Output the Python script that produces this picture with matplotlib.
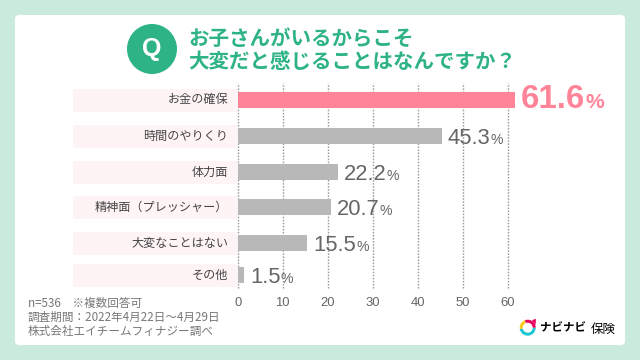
import matplotlib
matplotlib.use('Agg')
import matplotlib.pyplot as plt
from matplotlib.patches import Circle, FancyBboxPatch, Polygon, Rectangle, Wedge

plt.rcParams['font.family'] = ['Noto Sans CJK JP', 'DejaVu Sans']

categories = ['お金の確保', '時間のやりくり', '体力面', '精神面（プレッシャー）', '大変なことはない', 'その他']
values = [61.6, 45.3, 22.2, 20.7, 15.5, 1.5]
x_ticks = [0, 10, 20, 30, 40, 50, 60]
title_lines = ['お子さんがいるからこそ', '大変だと感じることはなんですか？']
footnotes = ['n=536　※複数回答可', '調査期間：2022年4月22日～4月29日', '株式会社エイチームフィナジー調べ']

# layout, in reference pixels
row_y = [100, 136, 172, 207, 243, 275]
W, H = 640, 360
X0, X60 = 237.7, 507.7
Y_TOP, Y_BOT = 83, 288
GREEN = '#2EB386'
PINK = '#FF8497'
GRAY = '#B8B8B8'
NUM_FONT = 'Liberation Sans'


def px(v):
    return v * 0.72


fig = plt.figure(figsize=(6.4, 3.6), dpi=100, facecolor='#C9EADD')

# page furniture drawn in pixel coordinates
bg = fig.add_axes([0, 0, 1, 1])
bg.set_xlim(0, W)
bg.set_ylim(H, 0)
bg.axis('off')
bg.add_patch(FancyBboxPatch((19, 19), 602, 322, boxstyle='round,pad=4,rounding_size=4',
                            fc='white', ec='none'))

bg.add_patch(Circle((152, 49), 25, fc=GREEN, ec='none'))
bg.text(152, 49, 'Q', color='white', fontsize=px(25), fontweight='bold',
        family=NUM_FONT, ha='center', va='center')
bg.text(188, 38, title_lines[0], color=GREEN, fontsize=px(20.5), fontweight='bold', ha='left', va='center')
bg.text(188, 62, title_lines[1], color=GREEN, fontsize=px(20.5), fontweight='bold', ha='left', va='center')

for y, label in zip(row_y, categories):
    bg.add_patch(Rectangle((73, y - 11.5), 164, 23, fc='#FFF4F5', ec='none'))
    bg.text(228, y, label, color='#444444', fontsize=px(12.1), ha='right', va='center')

for y, line in zip([303, 317, 331], footnotes):
    bg.text(28, y, line, color='#777777', fontsize=px(11.6), ha='left', va='center')

# logo
bg.add_patch(Wedge((527.7, 327.7), 8, 0, 170, width=3, fc='#1CC6D2', ec='none'))
bg.add_patch(Wedge((527.7, 327.7), 8, 170, 250, width=3, fc='#FFC81E', ec='none'))
bg.add_patch(Wedge((527.7, 327.7), 8, 250, 360, width=3, fc='#E6005C', ec='none'))
bg.add_patch(Polygon([[532, 320], [536, 319], [535.5, 325]], fc='#E6005C', ec='none'))
bg.text(540, 328, 'ナビナビ', color='black', fontsize=px(11.5), fontweight='bold', ha='left', va='center')
bg.text(591, 329, '保険', color='black', fontsize=px(12.5), ha='left', va='center')

# chart
ax = fig.add_axes([X0 / W, 1 - Y_BOT / H, (X60 - X0) / W, (Y_BOT - Y_TOP) / H])
ax.patch.set_alpha(0)
ax.set_xlim(0, 60)
ax.set_ylim(Y_BOT, Y_TOP)
ax.set_xticks(x_ticks)
ax.set_yticks([])
ax.tick_params(axis='x', length=0, pad=px(8.5), labelsize=px(13), labelcolor='#666666')
for t in ax.get_xticklabels():
    t.set_family(NUM_FONT)
for s in ax.spines.values():
    s.set_visible(False)
ax.set_axisbelow(True)
ax.grid(axis='x', color='#999999', linestyle=(0, (1.1, 1.1)), linewidth=1.0, clip_on=False)

colors = [PINK] + [GRAY] * (len(values) - 1)
bars = ax.barh(row_y, values, height=16, color=colors, zorder=2)
for b in bars:
    b.set_clip_on(False)

for i, (y, v) in enumerate(zip(row_y, values)):
    first = i == 0
    col = PINK if first else '#666666'
    s1 = 33 if first else 22
    s2 = 21 if first else 14
    num = ax.annotate(f'{v:.1f}', xy=(v, y + 8), xytext=(px(6), 0), textcoords='offset points',
                      color=col, fontsize=px(s1), family=NUM_FONT,
                      fontweight='bold' if first else 'normal', ha='left', va='baseline',
                      annotation_clip=False, zorder=3)
    ax.annotate('%', xy=(1, 0), xycoords=num, xytext=(0, px(0.21 * (s1 - s2))), textcoords='offset points',
                color=col, fontsize=px(s2), family=NUM_FONT,
                fontweight='bold' if first else 'normal', ha='left', va='bottom',
                annotation_clip=False, zorder=3)

fig.savefig('out.png', dpi=100, facecolor=fig.get_facecolor())
